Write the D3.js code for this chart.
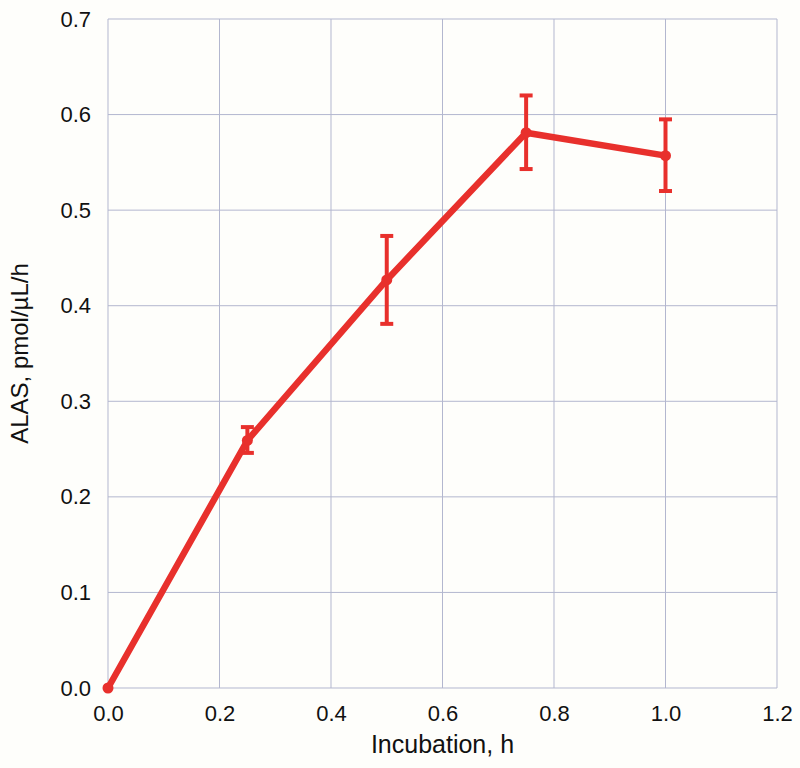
<!DOCTYPE html>
<html>
<head>
<meta charset="utf-8">
<script src="https://cdn.jsdelivr.net/npm/d3@7"></script>
<style>
  body { margin: 0; background: #fefefb; }
  text { font-family: "Liberation Sans", Arial, sans-serif; fill: #111; }
</style>
</head>
<body>
<script>
const width = 800;
const height = 768;

// Data
const incubation = [0, 0.25, 0.5, 0.75, 1.0];
const alas = [0, 0.259, 0.427, 0.581, 0.557];
const errLow = [0, 0.246, 0.381, 0.543, 0.520];
const errHigh = [0, 0.273, 0.473, 0.620, 0.595];
const xTicks = [0, 0.2, 0.4, 0.6, 0.8, 1.0, 1.2];
const yTicks = [0, 0.1, 0.2, 0.3, 0.4, 0.5, 0.6, 0.7];

const margin = {left: 108, right: 23, top: 19, bottom: 80};

const svg = d3.select("body")
  .append("svg")
  .attr("width", width)
  .attr("height", height);

svg.append("rect")
  .attr("width", width).attr("height", height)
  .attr("fill", "#fefefb");

const x = d3.scaleLinear().domain([0, 1.2]).range([margin.left, width - margin.right]);
const y = d3.scaleLinear().domain([0, 0.7]).range([height - margin.bottom, margin.top]);

const gridColor = "#b3b7cf";

// Grid lines
svg.append("g").selectAll("line")
  .data(xTicks)
  .enter().append("line")
  .attr("x1", d => x(d)).attr("x2", d => x(d))
  .attr("y1", y(0)).attr("y2", y(0.7))
  .attr("stroke", gridColor).attr("stroke-width", 1);

svg.append("g").selectAll("line")
  .data(yTicks)
  .enter().append("line")
  .attr("x1", x(0)).attr("x2", x(1.2))
  .attr("y1", d => y(d)).attr("y2", d => y(d))
  .attr("stroke", gridColor).attr("stroke-width", 1);

// Axes (labels only, lines come from grid)
const xAxis = svg.append("g")
  .attr("transform", `translate(0,${y(0)})`)
  .call(d3.axisBottom(x).tickValues(xTicks).tickFormat(d3.format(".1f")).tickSize(0).tickPadding(17));
xAxis.select(".domain").remove();
xAxis.selectAll("text").style("font-size", "22px").attr("fill", "#111");

const yAxis = svg.append("g")
  .attr("transform", `translate(${x(0)},0)`)
  .call(d3.axisLeft(y).tickValues(yTicks).tickFormat(d3.format(".1f")).tickSize(0).tickPadding(17));
yAxis.select(".domain").remove();
yAxis.selectAll("text").style("font-size", "22px").attr("fill", "#111");

// Axis titles
svg.append("text")
  .attr("x", x(0.6)).attr("y", 753)
  .attr("text-anchor", "middle")
  .style("font-size", "25px")
  .text("Incubation, h");

svg.append("text")
  .attr("transform", `translate(28,${y(0.35)}) rotate(-90)`)
  .attr("text-anchor", "middle")
  .style("font-size", "24px")
  .text("ALAS, pmol/µL/h");

const red = "#e8302c";

// Error bars
const pts = incubation.map((v, i) => ({x: v, y: alas[i], lo: errLow[i], hi: errHigh[i]}));
const bars = svg.append("g").selectAll("g")
  .data(pts.filter(d => d.hi > d.lo))
  .enter().append("g");

bars.append("line")
  .attr("x1", d => x(d.x)).attr("x2", d => x(d.x))
  .attr("y1", d => y(d.lo)).attr("y2", d => y(d.hi))
  .attr("stroke", red).attr("stroke-width", 4);
bars.append("line")
  .attr("x1", d => x(d.x) - 6.5).attr("x2", d => x(d.x) + 6.5)
  .attr("y1", d => y(d.hi)).attr("y2", d => y(d.hi))
  .attr("stroke", red).attr("stroke-width", 4);
bars.append("line")
  .attr("x1", d => x(d.x) - 6.5).attr("x2", d => x(d.x) + 6.5)
  .attr("y1", d => y(d.lo)).attr("y2", d => y(d.lo))
  .attr("stroke", red).attr("stroke-width", 4);

// Line
const line = d3.line().x(d => x(d.x)).y(d => y(d.y));
svg.append("path")
  .datum(pts)
  .attr("d", line)
  .attr("fill", "none")
  .attr("stroke", red)
  .attr("stroke-width", 6.5)
  .attr("stroke-linejoin", "round");

// Points
svg.append("g").selectAll("circle")
  .data(pts)
  .enter().append("circle")
  .attr("cx", d => x(d.x)).attr("cy", d => y(d.y))
  .attr("r", 5.5)
  .attr("fill", red);
</script>
</body>
</html>
